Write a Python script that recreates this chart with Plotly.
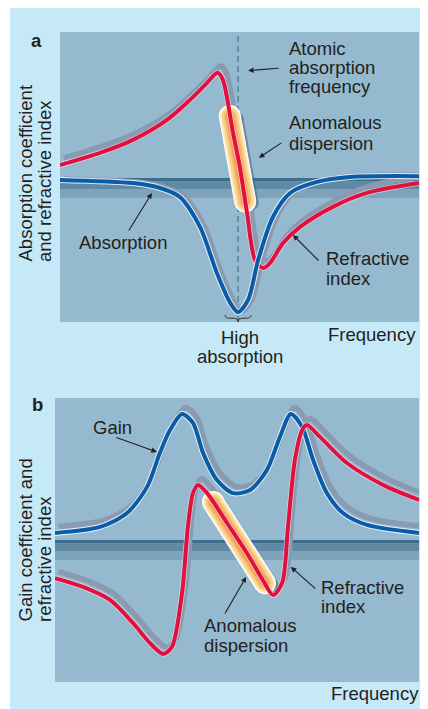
import numpy as np
import plotly.graph_objects as go

# The page adds an 8px body margin, so the figure is drawn 8px right/down.
OX, OY = 8, 8
W, H = 420, 701

# ---------------- data (arbitrary units: frequency 0-100, signal 0-100) ----------------
# Panel a: refractive index (red)
a_freq_n = [0, 11.1, 20.3, 29.8, 36.2, 40.9, 43.2, 44.0, 45.4, 48.2, 50.1, 52.1, 54.3, 56.5,
            58.5, 62.1, 66.9, 76.0, 85.5, 100]
a_refr = [54.1, 58.3, 62.8, 69.7, 76.6, 82.4, 85.5, 85.9, 83.4, 65.2, 53.4, 37.6, 21.4, 18.6,
          20.3, 27.2, 32.8, 39.7, 44.5, 47.9]
# Panel a: absorption (blue)
a_freq_abs = [0, 20.3, 27.9, 33.4, 39.0, 43.7, 47.4, 49.6, 52.4, 55.2, 59.3, 64.1, 71.6, 80.8, 100]
a_abs = [49.0, 47.9, 46.2, 43.1, 32.8, 16.9, 6.6, 3.4, 7.6, 21.4, 36.2, 44.5, 48.3, 50.0, 50.3]
a_atomic_freq = 49.6
a_anomalous = [47.3, 51.6]

# Panel b: gain (blue)
b_freq_gain = [0, 12.4, 19.8, 25.3, 28.8, 31.6, 34.9, 37.9, 40.7, 44.5, 48.9, 53.6, 58.2, 61.8,
               64.8, 67.9, 70.9, 74.7, 79.1, 85.7, 100]
b_gain = [52.5, 54.6, 59.5, 68.7, 80.6, 88.7, 94.4, 91.2, 80.6, 71.1, 66.5, 67.6, 74.6, 86.3,
          94.4, 89.8, 78.2, 66.5, 59.5, 55.3, 52.5]
# Panel b: refractive index (red)
b_freq_n = [0, 7.7, 15.1, 21.4, 26.1, 29.7, 32.1, 34.9, 36.5, 37.9, 39.3, 41.8, 47.3, 52.7,
            57.1, 59.9, 62.4, 64.0, 65.9, 67.9, 69.2, 72.8, 80.2, 90.1, 100]
b_refr = [36.6, 33.5, 28.9, 20.8, 13.7, 9.9, 12.3, 31.3, 54.6, 66.5, 69.4, 66.5, 55.9, 45.4,
          35.9, 30.6, 34.9, 54.6, 78.2, 88.7, 90.5, 86.3, 77.1, 69.4, 64.1]
b_anomalous = [43.4, 57.7]

# ---------------- style ----------------
FONT = "Liberation Sans, Arial, Helvetica, sans-serif"
TXT = "#231f20"
RED = "#e2103f"
BLUE = "#0a5ca8"
GRAY = "#8a9bb1"
PLOT_BG = "#95b9cf"
OUTER = "#c6e9f8"


def PX(px):
    return (px - OX) / W


def PY(py):
    return 1 - (py - OY) / H


dom = {
    "a": dict(x=[PX(60), PX(419)], y=[PY(322), PY(32)]),
    "b": dict(x=[PX(55), PX(419)], y=[PY(682), PY(398)]),
}


def scale(p):
    d = dom[p]
    sx = (d["x"][1] - d["x"][0]) * W / 100.0
    sy = (d["y"][1] - d["y"][0]) * H / 100.0
    return sx, sy


fig = go.Figure()
ax_of = {"a": ("x", "y"), "b": ("x2", "y2")}


def add_line(p, x, y, color, width, dxpx=0.0, dypx=0.0, smooth=0.8):
    sx, sy = scale(p)
    xa, ya = ax_of[p]
    fig.add_trace(go.Scatter(
        x=np.asarray(x) + dxpx / sx, y=np.asarray(y) + dypx / sy,
        mode="lines", line=dict(color=color, width=width, shape="spline", smoothing=smooth),
        xaxis=xa, yaxis=ya, hoverinfo="skip", showlegend=False))


def add_capsule(p, fx, fy, rng):
    sx, sy = scale(p)
    xa, ya = ax_of[p]
    f = np.array(rng)
    v = np.interp(f, fx, fy)
    c = "rgba(70,100,130,0.55)"
    fig.add_trace(go.Scatter(x=f + 7 / sx, y=v - 2 / sy, mode="lines+markers",
                             line=dict(color=c, width=13),
                             marker=dict(color=c, size=13, line=dict(width=0)),
                             xaxis=xa, yaxis=ya, hoverinfo="skip", showlegend=False))
    for c, w in [("#ffffff", 22), ("#fde9b4", 19.5), ("#fad08c", 16), ("#f6b873", 12),
                 ("#f29c58", 8)]:
        fig.add_trace(go.Scatter(x=f, y=v, mode="lines+markers",
                                 line=dict(color=c, width=w),
                                 marker=dict(color=c, size=w, line=dict(width=0)),
                                 xaxis=xa, yaxis=ya, hoverinfo="skip", showlegend=False))


# ---- panel a ----
add_line("a", a_freq_n, a_refr, GRAY, 5.5, 3.5, 7)
add_line("a", a_freq_abs, a_abs, GRAY, 5.5, 4, 1)
add_capsule("a", a_freq_n, a_refr, a_anomalous)
add_line("a", a_freq_n, a_refr, "rgba(255,255,255,0.55)", 5.5)
add_line("a", a_freq_n, a_refr, RED, 4)
add_line("a", a_freq_abs, a_abs, "rgba(235,245,250,0.9)", 6)
add_line("a", a_freq_abs, a_abs, BLUE, 4)

# ---- panel b ----
add_line("b", b_freq_gain, b_gain, GRAY, 5.5, 3.5, 6.5)
add_line("b", b_freq_n, b_refr, GRAY, 5.5, 3.5, 6.5)
add_line("b", b_freq_gain, b_gain, "rgba(235,245,250,0.9)", 6)
add_line("b", b_freq_gain, b_gain, BLUE, 4)
add_capsule("b", b_freq_n, b_refr, b_anomalous)
add_line("b", b_freq_n, b_refr, "rgba(255,255,255,0.55)", 5.5)
add_line("b", b_freq_n, b_refr, RED, 4)

# ---------------- shapes ----------------
shapes = [
    # white strips around the light-blue card (left, right)
    dict(type="rect", xref="paper", yref="paper", x0=PX(0), x1=PX(10), y0=0, y1=1,
         fillcolor="white", line=dict(width=0), layer="below"),
    dict(type="rect", xref="paper", yref="paper", x0=PX(425), x1=1.0, y0=0, y1=1,
         fillcolor="white", line=dict(width=0), layer="below"),
]


def bands(xr, yr, sy, top_val):
    out = []
    v = top_val
    for c, t in [("#3f6d8d", 3.5), ("#5f89a4", 7.5), ("#7ea3bb", 9)]:
        out.append(dict(type="rect", xref=xr, yref=yr, x0=0, x1=100, y0=v - t / sy, y1=v,
                        fillcolor=c, line=dict(width=0), layer="below"))
        v -= t / sy
    return out


shapes += bands("x", "y", scale("a")[1], (322 - 178) / scale("a")[1])
shapes += bands("x2", "y2", scale("b")[1], (682 - 540) / scale("b")[1])
shapes.append(dict(type="line", xref="x", yref="y", x0=a_atomic_freq, x1=a_atomic_freq, y0=0, y1=100,
                   line=dict(color="#4a7b9a", width=1.3, dash="6px,4px"), layer="below"))
c = a_atomic_freq
shapes.append(dict(type="path", xref="x", yref="y",
                   path=f"M{c-3.6},2.4 Q{c-3.6},1.3 {c-2.4},1.3 L{c-1.0},1.3 Q{c},1.3 {c},0.1 "
                        f"Q{c},1.3 {c+1.0},1.3 L{c+2.4},1.3 Q{c+3.6},1.3 {c+3.6},2.4",
                   line=dict(color="#333333", width=1)))

# ---------------- annotations ----------------
ann = []


def txt(s, px, py, xanchor="left", yanchor="middle", size=18.5, angle=0, bold=False):
    ann.append(dict(text=f"<b>{s}</b>" if bold else s, x=PX(px), y=PY(py), xref="paper", yref="paper",
                    showarrow=False, xanchor=xanchor, yanchor=yanchor, textangle=angle,
                    borderpad=0, font=dict(family=FONT, size=size, color=TXT)))


def arrow(xr, yr, hx, hy, axp, ayp):
    ann.append(dict(text="", x=hx, y=hy, xref=xr, yref=yr, ax=axp, ay=ayp, showarrow=True,
                    arrowhead=2, arrowsize=1.0, arrowwidth=1.1, arrowcolor=TXT, standoff=0))


# panel a texts
txt("a", 36, 40, xanchor="center", bold=True)
txt("Atomic", 288, 49)
txt("absorption", 288, 68)
txt("frequency", 288, 86)
txt("Anomalous", 288, 123)
txt("dispersion", 288, 143)
txt("Absorption", 78, 242)
txt("Refractive", 325, 258)
txt("index", 325, 278)
txt("High", 240, 337, xanchor="center")
txt("absorption", 240, 356, xanchor="center")
txt("Frequency", 417, 335, xanchor="right")
txt("Absorption coefficient", 25, 263, xanchor="center", yanchor="bottom", angle=-90)
txt("and refractive index", 44, 263, xanchor="center", yanchor="bottom", angle=-90)

# panel b texts
txt("b", 37, 405, xanchor="center", bold=True)
txt("Gain", 92, 427)
txt("Refractive", 320, 587)
txt("index", 320, 606)
txt("Anomalous", 203, 625)
txt("dispersion", 203, 645)
txt("Frequency", 420, 693, xanchor="right")
txt("Gain coefficient and", 25, 623, xanchor="center", yanchor="bottom", angle=-90)
txt("refractive index", 44, 623, xanchor="center", yanchor="bottom", angle=-90)

# arrows (head in data units, tail offset in px)
arrow("x", "y", 52.4, 86.7, 32, -2.4)
arrow("x", "y", 55.4, 56.6, 24, -16)
arrow("x", "y", 25.6, 44.5, -24, 39)
arrow("x", "y", 64.9, 30.0, 27, 27)
arrow("x2", "y2", 28.0, 81.0, -42, -15)
arrow("x2", "y2", 64.8, 40.5, 26, 23)
arrow("x2", "y2", 52.5, 37.0, -22, 38)

ax_style = dict(range=[0, 100], showgrid=False, zeroline=False, showticklabels=False,
                ticks="", showline=False, fixedrange=True)

fig.update_layout(
    width=W, height=H, margin=dict(l=0, r=0, t=0, b=0),
    paper_bgcolor=OUTER, plot_bgcolor=PLOT_BG,
    showlegend=False, hovermode=False,
    xaxis=dict(domain=dom["a"]["x"], anchor="y", **ax_style),
    yaxis=dict(domain=dom["a"]["y"], anchor="x", **ax_style),
    xaxis2=dict(domain=dom["b"]["x"], anchor="y2", **ax_style),
    yaxis2=dict(domain=dom["b"]["y"], anchor="x2", **ax_style),
    shapes=shapes, annotations=ann,
)

fig.write_html("out.html")
